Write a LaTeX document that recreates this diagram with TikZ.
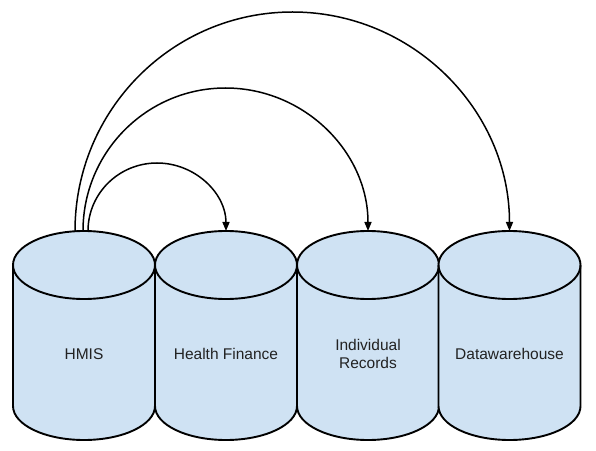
\documentclass[tikz,border=0pt]{standalone}
\usepackage{fontspec}
\setmainfont{Liberation Sans}
\usetikzlibrary{arrows.meta,calc}
\definecolor{dbfill}{HTML}{CFE2F3}
\definecolor{txtcol}{HTML}{222222}
\begin{document}
\begin{tikzpicture}[x=1pt,y=1pt,
  cylline/.style={draw=black,line width=1.9pt,line join=round},
  lbl/.style={font=\fontsize{15.5}{18.5}\selectfont,text=txtcol,align=center,inner sep=0pt},
  link/.style={draw=black,line width=1.5pt,-{Triangle[length=9pt,width=7pt]}},
  dbcyl/.pic={
    \fill[dbfill] (-71,185) -- (-71,44) arc[start angle=180,end angle=360,x radius=71,y radius=34] -- (71,185) arc[start angle=0,end angle=180,x radius=71,y radius=34] -- cycle;
    \draw[cylline] (-71,185) -- (-71,44) arc[start angle=180,end angle=360,x radius=71,y radius=34] -- (71,185);
    \draw[cylline] (0,185) ellipse[x radius=71,y radius=34];
  }]
\useasboundingbox (0,0) rectangle (596,450);
\fill[white] (0,0) rectangle (596,450);
\pic at (84,0) {dbcyl};
\pic at (226,0) {dbcyl};
\pic at (368,0) {dbcyl};
\pic at (509.5,0) {dbcyl};
\node[lbl] (hmis) at (84,96) {HMIS};
\node[lbl] (hf) at (226,96) {Health Finance};
\node[lbl] (ir) at (368,96) {Individual\\Records};
\node[lbl] (dw) at (509.5,96) {Datawarehouse};
\coordinate (s1) at (88,219);
\coordinate (e1) at (226,219);
\coordinate (p1) at (157,287);
\coordinate (s2) at (83,219);
\coordinate (e2) at (368,219);
\coordinate (p2) at (225.5,362);
\coordinate (s3) at (75,219);
\coordinate (e3) at (509.5,219);
\coordinate (p3) at (292.5,438);
\draw[link] (s1) .. controls +(0,37.6) and +(-38.1,0) .. (p1) .. controls +(38.1,0) and +(0,37.6) .. (e1);
\draw[link] (s2) .. controls +(0,79) and +(-78.7,0) .. (p2) .. controls +(78.7,0) and +(0,79) .. (e2);
\draw[link] (s3) .. controls +(0,121) and +(-120.1,0) .. (p3) .. controls +(120.1,0) and +(0,121) .. (e3);
\end{tikzpicture}
\end{document}
